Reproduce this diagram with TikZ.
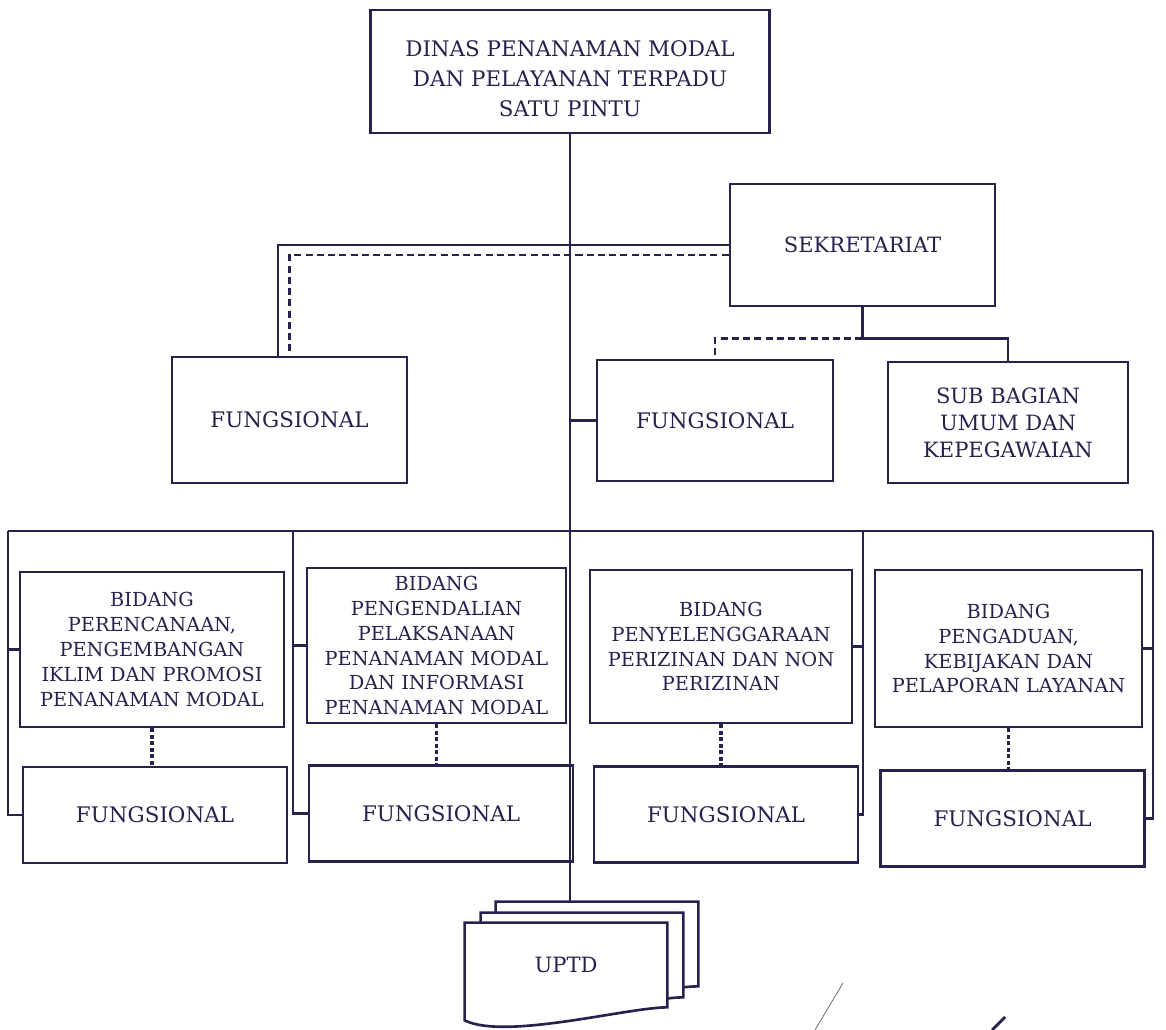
\documentclass[tikz,border=0pt]{standalone}
\usepackage{fontspec}
\setmainfont{DejaVu Serif}
\definecolor{ink}{RGB}{38,33,77}
\tikzset{
  orgbox/.style 2 args={draw=ink, line width=1.5pt, align=center, inner sep=2pt,
    minimum width=#1*0.02cm, minimum height=#2*0.02cm},
  link/.style={draw=ink, line width=1.5pt},
  dashlink/.style={link, dash pattern=on 4pt off 2.4pt},
  dotlink/.style={link, line width=1.9pt, dash pattern=on 2.2pt off 1.5pt},
  page/.style={inner sep=0pt, minimum width=202*0.02cm, minimum height=84*0.02cm},
  bidfont/.style={font=\fontsize{11}{14.2}\selectfont},
  fungfont/.style={font=\fontsize{12.2}{16}\selectfont},
}
\begin{document}
\begin{tikzpicture}[x=0.02cm, y=-0.02cm, text=ink]
   \useasboundingbox (0,0) rectangle (1166,1030);

   % Kepala dinas
   \node[orgbox={399}{123}, font=\fontsize{12.2}{17}\selectfont] (dinas) at (570,71.5)
      {\rule{0pt}{0.62cm}DINAS PENANAMAN MODAL\\DAN PELAYANAN TERPADU\\SATU PINTU};

   % Sekretariat
   \node[orgbox={265}{122}, font=\fontsize{12}{15}\selectfont] (sekr) at (862.5,245) {SEKRETARIAT};
   \node[orgbox={235}{126}, fungfont] (fungL) at (289.5,420) {FUNGSIONAL};
   \node[orgbox={236}{121}, fungfont] (fungM) at (715,420.5) {FUNGSIONAL};
   \node[orgbox={240}{121}, font=\fontsize{12}{15.4}\selectfont] (subbag) at (1008,422.5)
      {SUB BAGIAN\\UMUM DAN\\KEPEGAWAIAN};

   % Bidang
   \node[orgbox={264}{155}, bidfont] (bid1) at (152,649.5)
      {BIDANG\\PERENCANAAN,\\PENGEMBANGAN\\IKLIM DAN PROMOSI\\PENANAMAN MODAL};
   \node[orgbox={259}{155}, bidfont] (bid2) at (436.5,645.5)
      {BIDANG\\PENGENDALIAN\\PELAKSANAAN\\PENANAMAN MODAL\\DAN INFORMASI\\PENANAMAN MODAL};
   \node[orgbox={262}{153}, bidfont] (bid3) at (721,646.5)
      {BIDANG\\PENYELENGGARAAN\\PERIZINAN DAN NON\\PERIZINAN};
   \node[orgbox={267}{157}, bidfont] (bid4) at (1008.5,648.5)
      {BIDANG\\PENGADUAN,\\KEBIJAKAN DAN\\PELAPORAN LAYANAN};

   \foreach \i/\x/\y in {1/155/815, 2/441/813.5, 3/726/814.5, 4/1012.5/818.5} {
      \node[orgbox={264}{96}, fungfont] (fung\i) at (\x,\y) {FUNGSIONAL};
      \draw[dotlink] (bid\i.south) -- (bid\i.south |- fung\i.north);
   }

   % UPTD
   \foreach \n/\x/\y in {C/597/944, B/582/955, A/566/965} {
      \node[page] (uptd\n) at (\x,\y) {};
      \draw[link, fill=white] (uptd\n.north west) -- (uptd\n.north east) -- (uptd\n.south east)
         .. controls +(-40,0) and +(40,20) .. ([yshift=-0.26cm]uptd\n.south west) -- cycle;
   }
   \node[font=\fontsize{12}{15}\selectfont] (uptdlabel) at (uptdA) {UPTD};

   % garis komando
   \draw[link] (dinas.south) -- (dinas.south |- uptdC.north);
   \draw[link] (sekr.west) -| ([xshift=-0.23cm]fungL.north);
   \draw[dashlink] ([yshift=-0.2cm]sekr.west) -| (fungL.north);
   \path (sekr.south) ++(0,31) coordinate (sj);
   \draw[link] (sekr.south) -- (sj) -| (subbag.north);
   \draw[dashlink] (sj) -| (fungM.north);
   \draw[link] (fungM.west) -- (fungM.west -| dinas.south);

   \coordinate (row1) at (8,531);
   \coordinate (row2) at (293,531);
   \coordinate (row3) at (863,531);
   \coordinate (row4) at (1153,531);
   \draw[link] (row1) -- (row4);
   \draw[link] (row1) |- (fung1.west);
   \draw[link] (bid1.west) -- (bid1.west -| row1);
   \draw[link] (row2) |- (fung2.west);
   \draw[link] (bid2.west) -- (bid2.west -| row2);
   \draw[link] (row3) |- (fung3.east);
   \draw[link] (bid3.east) -- (bid3.east -| row3);
   \draw[link] (row4) |- (fung4.east);
   \draw[link] (bid4.east) -- (bid4.east -| row4);

   % paraf
   \draw[gray!60!ink, line width=0.4pt] (843,983) -- (815,1030);
   \draw[ink, line width=1.6pt] (1005,1017) -- (992,1030);
\end{tikzpicture}
\end{document}
